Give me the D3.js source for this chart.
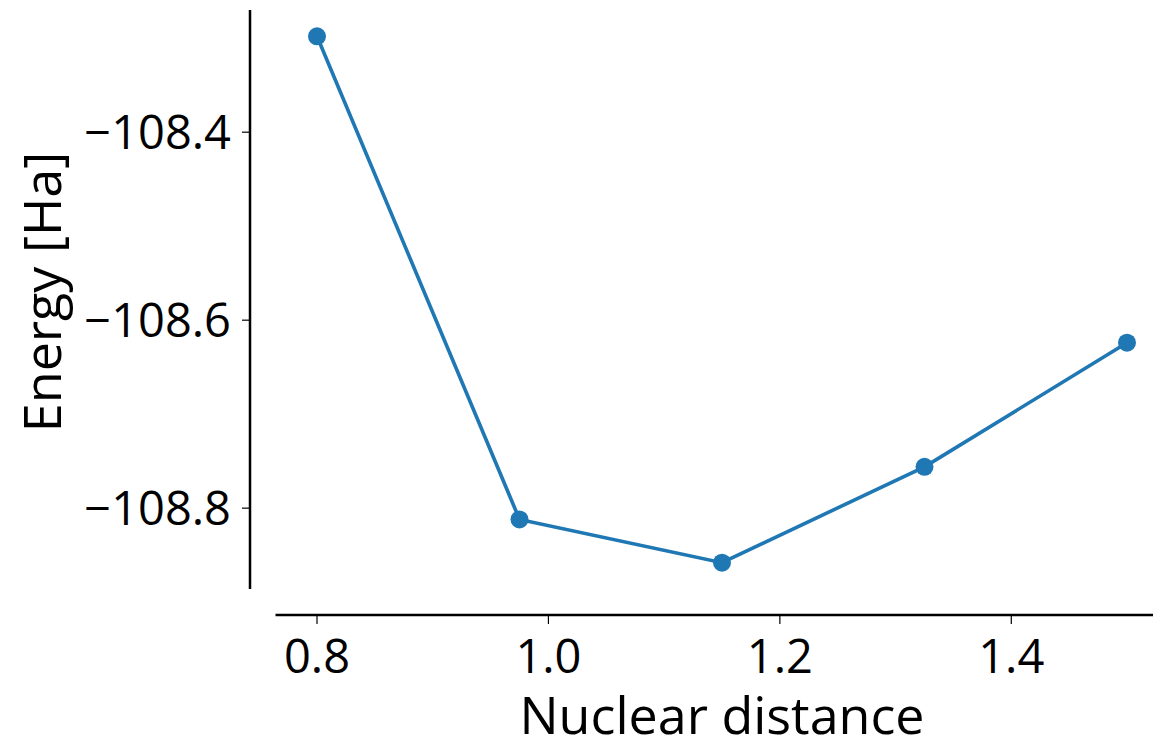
<!DOCTYPE html>
<html><head><meta charset="utf-8">
<script src="https://cdn.jsdelivr.net/npm/d3@7"></script>
<style>body{margin:0;background:#fff}svg{display:block}text{font-family:"Open Sans",sans-serif;fill:#000}</style>
</head><body>
<svg id="c" width="1153" height="741"></svg>
<script>
const distances = [0.8, 0.975, 1.15, 1.325, 1.5];
const energies = [-108.298, -108.812, -108.858, -108.756, -108.624];
const xTicks = [0.8, 1.0, 1.2, 1.4];
const yTicks = [-108.4, -108.6, -108.8];
const xLabel = "Nuclear distance";
const yLabel = "Energy [Ha]";

const svg = d3.select("#c");
const xr = [d3.min(distances), d3.max(distances)], xm = (xr[1]-xr[0])*0.05;
const yr = [d3.min(energies), d3.max(energies)], ym = (yr[1]-yr[0])*0.05;
const x = d3.scaleLinear().domain([xr[0]-xm, xr[1]+xm]).range([276.5, 1167.5]);
const y = d3.scaleLinear().domain([yr[0]-ym, yr[1]+ym]).range([589, 10]);
const fs = 47, lfs = 52;

// y axis
const ya = svg.append("g").attr("transform","translate(250,0)");
ya.append("line").attr("x1",0).attr("x2",0).attr("y1",y.range()[1]).attr("y2",y.range()[0]).attr("stroke","#000").attr("stroke-width",2.5);
yTicks.forEach(t=>{
  ya.append("line").attr("x1",-8).attr("x2",0).attr("y1",y(t)).attr("y2",y(t)).attr("stroke","#000").attr("stroke-width",1.2);
  ya.append("text").attr("x",-19).attr("y",y(t)).attr("dy","0.36em").attr("text-anchor","end").attr("font-size",fs).text("\u2212"+Math.abs(t).toFixed(1));
});
// x axis
const xa = svg.append("g").attr("transform","translate(0,615)");
xa.append("line").attr("x1",x.range()[0]-1).attr("x2",x.range()[1]).attr("y1",0).attr("y2",0).attr("stroke","#000").attr("stroke-width",2.5);
xTicks.forEach(t=>{
  xa.append("line").attr("x1",x(t)).attr("x2",x(t)).attr("y1",0).attr("y2",9).attr("stroke","#000").attr("stroke-width",1.2);
  xa.append("text").attr("x",x(t)).attr("y",58).attr("text-anchor","middle").attr("font-size",fs).text(t.toFixed(1));
});
svg.append("text").attr("x",722).attr("y",734).attr("text-anchor","middle").attr("font-size",lfs).text(xLabel);
svg.append("text").attr("transform","translate(61,292) rotate(-90)").attr("text-anchor","middle").attr("font-size",lfs).text(yLabel);

const pts = distances.map((d,i)=>[d,energies[i]]);
svg.append("path").datum(pts).attr("fill","none").attr("stroke","#1f77b4").attr("stroke-width",3.6)
  .attr("d",d3.line().x(d=>x(d[0])).y(d=>y(d[1])));
svg.selectAll("circle.p").data(pts).join("circle").attr("cx",d=>x(d[0])).attr("cy",d=>y(d[1])).attr("r",9).attr("fill","#1f77b4");
</script>
</body></html>
